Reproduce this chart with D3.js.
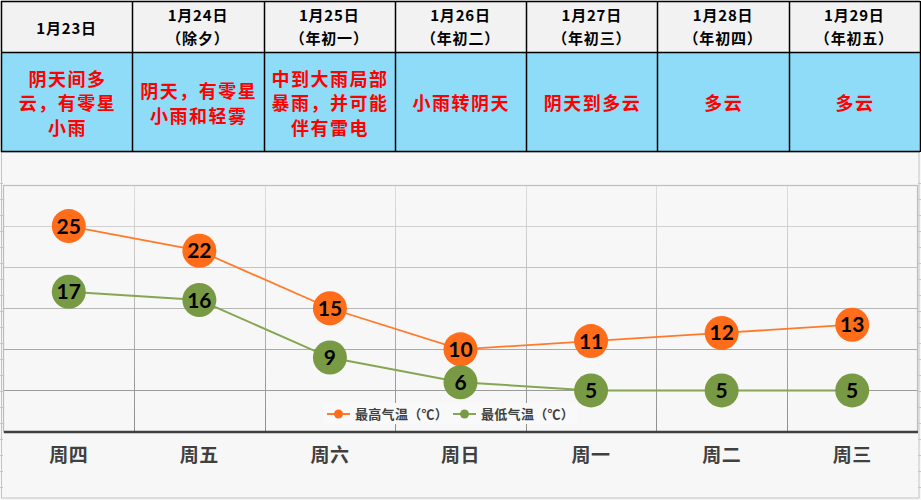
<!DOCTYPE html>
<html><head><meta charset="utf-8">
<script src="https://cdn.jsdelivr.net/npm/d3@7"></script>
<style>
html,body{margin:0;padding:0;background:#f7f7f7;}
svg{display:block;}
</style></head>
<body>
<svg id="c" width="921" height="500"></svg>
<script>
const dates = ["1月23日","1月24日","1月25日","1月26日","1月27日","1月28日","1月29日"];
const lunar = ["","（除夕）","（年初一）","（年初二）","（年初三）","（年初四）","（年初五）"];
const weather = [
  ["阴天间多","云，有零星","小雨"],
  ["阴天，有零星","小雨和轻雾"],
  ["中到大雨局部","暴雨，并可能","伴有雷电"],
  ["小雨转阴天"],
  ["阴天到多云"],
  ["多云"],
  ["多云"]
];
const weekdays = ["周四","周五","周六","周日","周一","周二","周三"];
const highTemps = [25,22,15,10,11,12,13];
const lowTemps = [17,16,9,6,5,5,5];
const seriesNames = ["最高气温（℃）","最低气温（℃）"];
const yTicks = [0,5,10,15,20,25,30];

const svg = d3.select("#c");
const W = 921, H = 500;
const cjk = "'Noto Sans CJK SC','Noto Sans',sans-serif";

svg.append("rect").attr("width",W).attr("height",H).attr("fill","#f7f7f7");

const rowMarks = d3.range(183, 500, 16);
svg.selectAll(".lm").data(rowMarks).join("line")
  .attr("x1",0).attr("x2",3).attr("y1",d=>d+0.5).attr("y2",d=>d+0.5)
  .attr("stroke","#c8c8c8");
svg.selectAll(".rm").data(rowMarks).join("line")
  .attr("x1",918).attr("x2",921).attr("y1",d=>d+0.5).attr("y2",d=>d+0.5)
  .attr("stroke","#c8c8c8");

svg.append("rect").attr("x",1.5).attr("y",152).attr("width",917.5).attr("height",346)
  .attr("fill","none").attr("stroke","#c4c4c4").attr("stroke-width",1);

// ===== Table =====
const tx = d3.scaleBand().domain(d3.range(7)).range([1,920]);
const tbl = svg.append("g");
tbl.append("rect").attr("x",1).attr("y",1).attr("width",919).attr("height",51).attr("fill","#f2f2f2");
tbl.append("rect").attr("x",1).attr("y",52).attr("width",919).attr("height",99).attr("fill","#8fdcf8");
[1,52,151].forEach(y=>{
  tbl.append("line").attr("x1",1).attr("x2",920).attr("y1",y+0.5).attr("y2",y+0.5)
    .attr("stroke","#000").attr("stroke-width",1.5);
});
d3.range(8).forEach(i=>{
  const x = i<7 ? tx(i) : 920;
  tbl.append("line").attr("x1",Math.round(x)+0.5).attr("x2",Math.round(x)+0.5).attr("y1",1).attr("y2",152)
    .attr("stroke","#000").attr("stroke-width",1.5);
});
dates.forEach((d,i)=>{
  const cx = tx(i)+tx.bandwidth()/2;
  const g = tbl.append("text").attr("x",cx).attr("text-anchor","middle")
    .attr("font-family",cjk).attr("font-weight","bold").attr("font-size",15).attr("fill","#000")
    .attr("letter-spacing",0.8);
  if(lunar[i]){
    g.append("tspan").attr("x",cx).attr("y",15.5).attr("dy","0.36em").text(d);
    g.append("tspan").attr("x",cx).attr("y",38.5).attr("dy","0.36em").text(lunar[i]);
  } else {
    g.append("tspan").attr("x",cx).attr("y",29).attr("dy","0.36em").text(d);
  }
});
weather.forEach((lines,i)=>{
  const cx = tx(i)+tx.bandwidth()/2;
  const lh = 24.5;
  const cy = 104;
  const y0 = cy - (lines.length-1)*lh/2;
  const t = tbl.append("text").attr("text-anchor","middle")
    .attr("font-family",cjk).attr("font-size",18).attr("font-weight","bold").attr("fill","#ff0000")
    .attr("letter-spacing",1.5);
  lines.forEach((l,j)=>{
    t.append("tspan").attr("x",cx+0.75).attr("y",y0+j*lh).attr("dy","0.36em").text(l);
  });
});

// ===== Chart =====
const plotL = 3.5, plotR = 917.5, plotT = 185, plotB = 431.5;
const x = d3.scaleBand().domain(weekdays).range([plotL,plotR]);
const y = d3.scaleLinear().domain([0,30]).range([plotB,plotT]);
const cx = d => x(d)+x.bandwidth()/2;

const defs = svg.append("defs");
const grad = defs.append("linearGradient").attr("id","vg").attr("gradientUnits","userSpaceOnUse")
  .attr("x1",0).attr("x2",0).attr("y1",plotT).attr("y2",plotB);
grad.append("stop").attr("offset",0).attr("stop-color","#dedede");
grad.append("stop").attr("offset",1).attr("stop-color","#8e8e8e");
const gcol = d3.scaleLinear().domain([plotT,plotB]).range(["#dedede","#8e8e8e"]);

svg.append("g").selectAll("line").data(yTicks.filter(t=>t>0 && t<30)).join("line")
  .attr("x1",plotL).attr("x2",plotR)
  .attr("y1",d=>Math.round(y(d))+0.5).attr("y2",d=>Math.round(y(d))+0.5)
  .attr("stroke",d=>gcol(y(d))).attr("stroke-width",1);
svg.append("g").selectAll("line").data(weekdays.slice(1)).join("line")
  .attr("x1",d=>Math.round(x(d))+0.5).attr("x2",d=>Math.round(x(d))+0.5)
  .attr("y1",plotT).attr("y2",plotB).attr("stroke","url(#vg)").attr("stroke-width",1);
svg.append("rect").attr("x",plotL).attr("y",plotT+0.5).attr("width",plotR-plotL).attr("height",plotB-plotT)
  .attr("fill","none").attr("stroke","#bdbdbd").attr("stroke-width",1.2);

const xAxis = d3.axisBottom(x).tickSize(0).tickPadding(17);
const ax = svg.append("g").attr("transform",`translate(0,${plotB})`).call(xAxis);
ax.select(".domain").attr("stroke","#404040").attr("stroke-width",2.5);
ax.selectAll("text").attr("font-family",cjk).attr("font-size",19).attr("font-weight","bold")
  .attr("fill","#404040").attr("letter-spacing",0.5);

const lineGen = d3.line().x((d,i)=>cx(weekdays[i])).y(d=>y(d));
const series = [
  {vals:highTemps, line:"#ff7a2a", fill:"#ff6d1a", lw:1.8},
  {vals:lowTemps, line:"#86a653", fill:"#789a44", lw:2}
];
series.forEach(s=>{
  svg.append("path").datum(s.vals).attr("d",lineGen).attr("fill","none")
    .attr("stroke",s.line).attr("stroke-width",s.lw);
});
series.forEach(s=>{
  const g = svg.append("g");
  g.selectAll("circle").data(s.vals).join("circle")
    .attr("cx",(d,i)=>cx(weekdays[i])).attr("cy",d=>y(d)).attr("r",17).attr("fill",s.fill);
  g.selectAll("text").data(s.vals).join("text")
    .attr("x",(d,i)=>cx(weekdays[i])).attr("y",d=>y(d)).attr("dy","0.36em")
    .attr("text-anchor","middle").attr("font-family","Lato,'Open Sans',sans-serif")
    .attr("font-weight","bold").attr("font-size",21).attr("fill","#000").text(d=>d);
});

const lg = svg.append("g");
lg.append("rect").attr("x",323).attr("y",403).attr("width",255).attr("height",21).attr("fill","#f9f9f9");
const legX = [327, 453];
series.forEach((s,i)=>{
  const lx = legX[i], ly = 414;
  lg.append("line").attr("x1",lx).attr("x2",lx+23).attr("y1",ly).attr("y2",ly)
    .attr("stroke",s.line).attr("stroke-width",2);
  lg.append("circle").attr("cx",lx+11.5).attr("cy",ly).attr("r",4.5).attr("fill",s.fill);
  lg.append("text").attr("x",lx+28).attr("y",ly).attr("dy","0.35em")
    .attr("font-family",cjk).attr("font-size",13).attr("font-weight","bold").attr("fill","#404040")
    .attr("letter-spacing",0.3)
    .text(seriesNames[i]);
});
</script>
</body></html>
